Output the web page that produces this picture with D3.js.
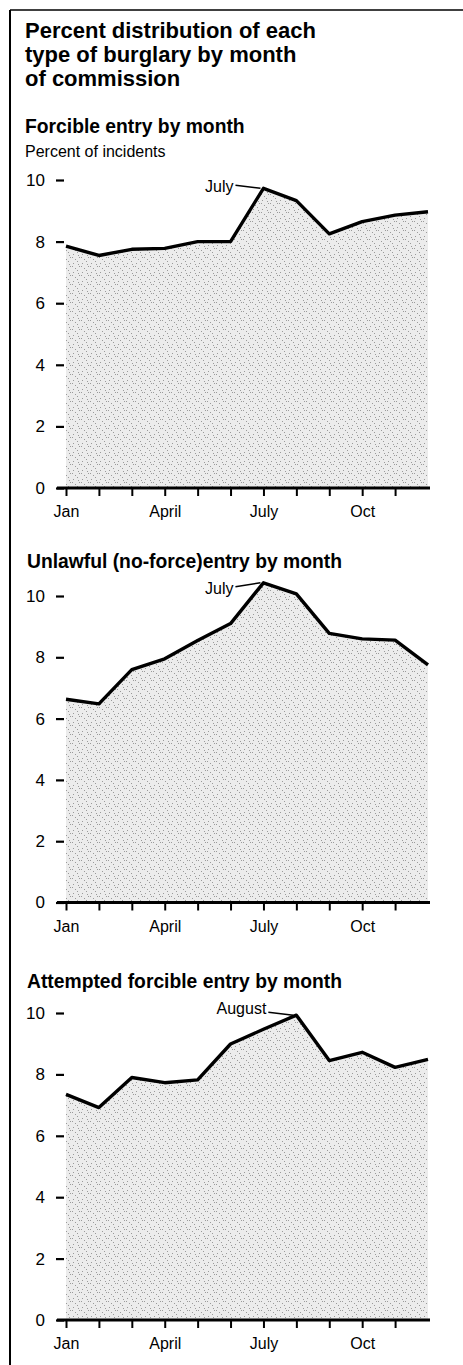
<!DOCTYPE html>
<html>
<head>
<meta charset="utf-8">
<script src="https://cdn.jsdelivr.net/npm/d3@7/dist/d3.min.js"></script>
<style>
  body { margin: 0; background: #fff; }
  svg { display: block; font-family: "Liberation Sans", Arial, Helvetica, sans-serif; }
</style>
</head>
<body>
<svg width="463" height="1365"></svg>
<script>
// months on the x axis, labels only on four of them
const months = ['Jan', 'Feb', 'Mar', 'Apr', 'May', 'Jun', 'Jul', 'Aug', 'Sep', 'Oct', 'Nov', 'Dec'];
const monthLabels = {Jan: 'Jan', Apr: 'April', Jul: 'July', Oct: 'Oct'};
const yTicks = [0, 2, 4, 6, 8, 10];

// percent of incidents by month
const forcible = [7.85, 7.55, 7.75, 7.78, 8.0, 8.0, 9.73, 9.33, 8.25, 8.65, 8.86, 8.97];
const unlawful = [6.63, 6.48, 7.6, 7.95, 8.55, 9.1, 10.43, 10.07, 8.78, 8.6, 8.56, 7.75];
const attempted = [7.35, 6.92, 7.9, 7.73, 7.82, 8.99, 9.47, 9.93, 8.45, 8.72, 8.23, 8.49];

const svg = d3.select('svg');

// stipple texture for the shaded areas
const pat = svg.append('defs').append('pattern')
    .attr('id', 'stipple')
    .attr('width', 9).attr('height', 9)
    .attr('patternUnits', 'userSpaceOnUse');
pat.append('rect').attr('width', 9).attr('height', 9).attr('fill', '#ececec');
[[1, 2], [5, 0], [7, 5], [3, 7], [0, 5], [6, 3]].forEach(p => {
    pat.append('rect').attr('x', p[0]).attr('y', p[1]).attr('width', 1).attr('height', 1).attr('fill', '#9a9a9a');
});

// page frame: top rule and left rule
svg.append('line').attr('x1', 10).attr('x2', 463).attr('y1', 10).attr('y2', 10)
    .attr('stroke', '#000').attr('stroke-width', 1.5);
svg.append('line').attr('x1', 10).attr('x2', 10).attr('y1', 10).attr('y2', 1365)
    .attr('stroke', '#000').attr('stroke-width', 2);

// main title
const title = svg.append('text').attr('x', 25).attr('font-size', 22).attr('font-weight', 'bold');
['Percent distribution of each', 'type of burglary by month', 'of commission'].forEach((t, i) => {
    title.append('tspan').attr('x', 25).attr('y', 38 + i * 24).text(t);
});

const x = d3.scalePoint().domain(months).range([66, 428]);

function panel(values, opts) {
    const y = d3.scaleLinear().domain([0, 10]).range([opts.y0, opts.y10]);
    const g = svg.append('g');

    g.append('text')
        .attr('x', opts.titleX).attr('y', opts.titleY)
        .attr('font-size', 19.3).attr('font-weight', 'bold')
        .text(opts.title);

    const data = months.map((m, i) => ({m: m, v: values[i]}));

    g.append('path')
        .datum(data)
        .attr('fill', 'url(#stipple)')
        .attr('d', d3.area().x(d => x(d.m)).y0(y(0)).y1(d => y(d.v)));

    g.append('path')
        .datum(data)
        .attr('fill', 'none')
        .attr('stroke', '#000')
        .attr('stroke-width', 3.4)
        .attr('stroke-linejoin', 'round')
        .attr('d', d3.line().x(d => x(d.m)).y(d => y(d.v)));

    // y axis: short detached dashes
    const ya = g.append('g')
        .attr('transform', 'translate(64,0)')
        .call(d3.axisLeft(y).tickValues(yTicks).tickSize(8).tickPadding(11).tickFormat(d3.format('d')));
    ya.select('.domain').remove();
    ya.attr('font-family', null);
    ya.selectAll('line').attr('stroke', '#000').attr('stroke-width', 2.2);
    ya.selectAll('text').attr('font-size', 17).attr('fill', '#000');

    // x axis
    const xa = g.append('g')
        .attr('transform', 'translate(0,' + y(0) + ')')
        .call(d3.axisBottom(x).tickValues(months.slice(0, 11)).tickSize(8).tickPadding(10)
            .tickFormat(m => monthLabels[m] || ''));
    xa.select('.domain').remove();
    xa.attr('font-family', null);
    xa.selectAll('line').attr('stroke', '#000').attr('stroke-width', 2);
    xa.selectAll('text').attr('font-size', 16).attr('fill', '#000');
    xa.append('line')
        .attr('x1', x('Jan') - 9).attr('x2', x('Dec') + 2)
        .attr('stroke', '#000').attr('stroke-width', 3);

    // peak annotation
    const pk = data[opts.peak];
    const px = x(pk.m), py = y(pk.v);
    g.append('line')
        .attr('x1', px - 28).attr('y1', py + opts.leadDy)
        .attr('x2', px - 3).attr('y2', py)
        .attr('stroke', '#000').attr('stroke-width', 1.5);
    g.append('text')
        .attr('x', px - 30).attr('y', py + opts.textDy)
        .attr('text-anchor', 'end').attr('font-size', 16)
        .text(opts.peakLabel);

    return g;
}

const p1 = panel(forcible, {
    title: 'Forcible entry by month', titleX: 25, titleY: 133,
    y0: 488, y10: 180, peak: 6, peakLabel: 'July', leadDy: -3, textDy: 4
});
p1.append('text').attr('x', 25).attr('y', 157).attr('font-size', 16).text('Percent of incidents');

panel(unlawful, {
    title: 'Unlawful (no-force)entry by month', titleX: 27, titleY: 568,
    y0: 902.5, y10: 596, peak: 6, peakLabel: 'July', leadDy: 4, textDy: 11
});

panel(attempted, {
    title: 'Attempted forcible entry by month', titleX: 27, titleY: 988,
    y0: 1320, y10: 1013, peak: 7, peakLabel: 'August', leadDy: -3, textDy: -1
});
</script>
</body>
</html>
